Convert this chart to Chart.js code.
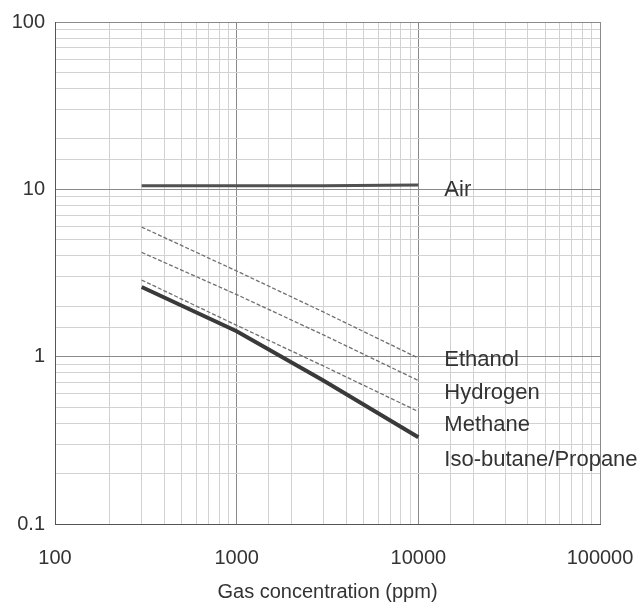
<!DOCTYPE html>
<html>
<head>
<meta charset="utf-8">
<script src="https://cdn.jsdelivr.net/npm/chart.js@4/dist/chart.umd.min.js"></script>
<style>
  html, body { margin: 0; padding: 0; background: #fff; }
  #wrap { width: 643px; height: 608px; }
</style>
</head>
<body>
<div id="wrap"><canvas id="sensChart" width="643" height="608"></canvas></div>
<script>
// gas concentration (ppm) and sensor ratio
const concentration = [300, 1000, 3000, 10000];
const airValues = [10.5, 10.5, 10.5, 10.6];
const ethanolValues = [5.95, 3.25, 1.85, 0.98];
const hydrogenValues = [4.2, 2.35, 1.35, 0.72];
const methaneValues = [2.87, 1.54, 0.88, 0.47];
const isoButaneValues = [2.61, 1.42, 0.72, 0.33];
const seriesNames = ['Air', 'Ethanol', 'Hydrogen', 'Methane', 'Iso-butane/Propane'];
const xTickLabels = [100, 1000, 10000, 100000];
const yTickLabels = [0.1, 1, 10, 100];

const pts = vals => concentration.map((c, i) => ({ x: c, y: vals[i] }));
const isDecade = v => Math.abs(Math.log10(v) - Math.round(Math.log10(v))) < 1e-6;

// where the curve names sit (value units, right of the 10000 line)
const nameAnchors = [9.9, 0.955, 0.605, 0.39, 0.241];

const curveNames = {
  id: 'curveNames',
  afterDatasetsDraw(chart) {
    const { ctx, scales: { x, y } } = chart;
    ctx.save();
    ctx.fillStyle = '#333';
    ctx.font = '22px "Liberation Sans", Arial, sans-serif';
    ctx.textBaseline = 'middle';
    ctx.textAlign = 'left';
    const left = x.getPixelForValue(10000) + 26;
    seriesNames.forEach((name, i) => {
      ctx.fillText(name, left, y.getPixelForValue(nameAnchors[i]));
    });
    ctx.restore();
  }
};

const thin = { borderColor: '#707070', borderWidth: 1.3, borderDash: [4, 2] };

new Chart(document.getElementById('sensChart'), {
  type: 'line',
  data: {
    datasets: [
      { label: seriesNames[0], data: pts(airValues), borderColor: '#505050', borderWidth: 3 },
      Object.assign({ label: seriesNames[1], data: pts(ethanolValues) }, thin),
      Object.assign({ label: seriesNames[2], data: pts(hydrogenValues) }, thin),
      Object.assign({ label: seriesNames[3], data: pts(methaneValues) }, thin),
      { label: seriesNames[4], data: pts(isoButaneValues), borderColor: '#3a3a3a', borderWidth: 4 }
    ]
  },
  options: {
    responsive: false,
    animation: false,
    layout: { padding: { top: 22, right: 43, left: 0, bottom: 0 } },
    elements: { point: { radius: 0 }, line: { tension: 0 } },
    plugins: { legend: { display: false }, tooltip: { enabled: false } },
    scales: {
      x: {
        type: 'logarithmic',
        min: 100,
        max: 100000,
        afterFit: s => { s.height = 84; s.paddingLeft = 0; s.paddingRight = 0; },
        border: { color: '#555', width: 1 },
        grid: {
          drawTicks: false,
          color: c => isDecade(c.tick.value) ? '#8a8a8a' : '#d2d2d2'
        },
        ticks: {
          autoSkip: false,
          maxRotation: 0,
          padding: 22,
          color: '#333',
          font: { family: '"Liberation Sans", Arial, sans-serif', size: 20 },
          callback: v => xTickLabels.includes(v) ? String(v) : ''
        },
        title: {
          display: true,
          text: 'Gas concentration (ppm)',
          color: '#333',
          padding: { top: 4, bottom: 4 },
          font: { family: '"Liberation Sans", Arial, sans-serif', size: 20 }
        }
      },
      y: {
        type: 'logarithmic',
        min: 0.1,
        max: 100,
        afterFit: s => { s.width = 55; },
        border: { color: '#555', width: 1 },
        grid: {
          drawTicks: false,
          color: c => isDecade(c.tick.value) ? '#8a8a8a' : '#d2d2d2'
        },
        ticks: {
          autoSkip: false,
          padding: 10,
          color: '#333',
          font: { family: '"Liberation Sans", Arial, sans-serif', size: 20 },
          callback: v => yTickLabels.includes(v) ? String(v) : ''
        }
      }
    }
  },
  plugins: [curveNames]
});
</script>
</body>
</html>
